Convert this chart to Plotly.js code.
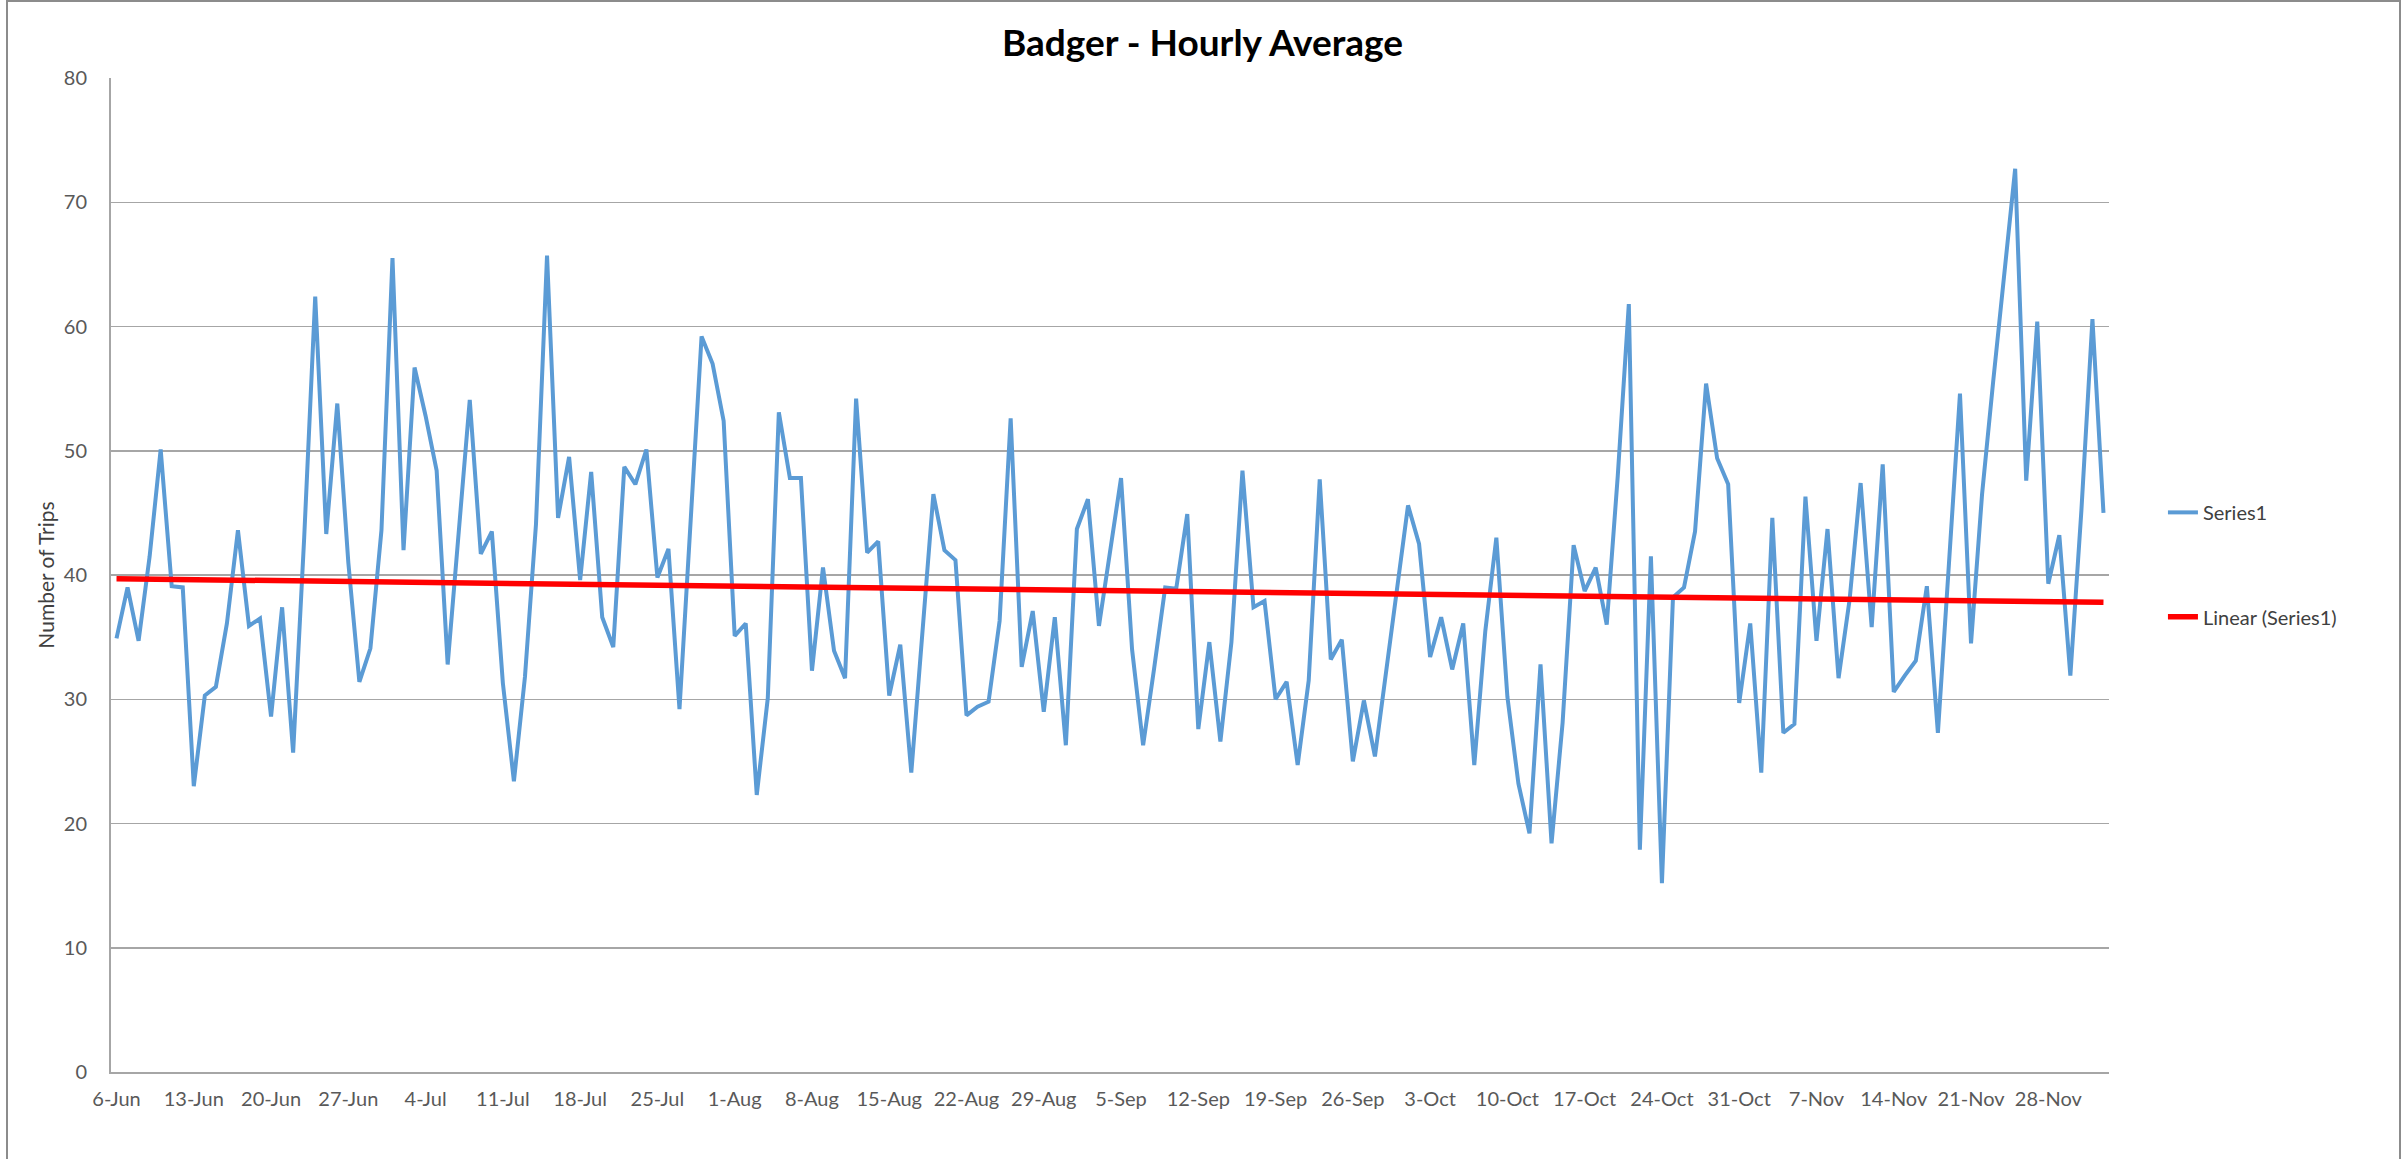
<!DOCTYPE html>
<html>
<head>
<meta charset="utf-8">
<script src="https://cdn.plot.ly/plotly-3.0.1.min.js"></script>
<style>
  html, body { margin: 0; padding: 0; background: #ffffff; }
  #chart { width: 2405px; height: 1159px; }
</style>
</head>
<body>
<div id="chart"></div>
<script>
// ---- data ----
const startDate = '2015-06-06';
const seriesName = 'Series1';
const trendName = 'Linear (Series1)';
const chartTitle = 'Badger - Hourly Average';
const yTitle = 'Number of Trips';
const tripsValues = [
  34.9, 39.0, 34.7, 41.5, 50.1, 39.1, 39.0, 23.0, 30.3, 31.0,
  36.1, 43.6, 35.9, 36.5, 28.6, 37.4, 25.7, 43.0, 62.4, 43.3,
  53.8, 41.0, 31.4, 34.1, 43.6, 65.5, 42.0, 56.7, 52.8, 48.4,
  32.8, 43.0, 54.1, 41.7, 43.5, 31.3, 23.4, 31.8, 44.1, 65.7,
  44.6, 49.5, 39.6, 48.3, 36.6, 34.2, 48.7, 47.3, 50.1, 39.8,
  42.1, 29.2, 44.0, 59.2, 57.0, 52.4, 35.1, 36.1, 22.3, 30.1,
  53.1, 47.8, 47.8, 32.3, 40.6, 33.9, 31.7, 54.2, 41.8, 42.7,
  30.3, 34.4, 24.1, 35.5, 46.5, 42.0, 41.2, 28.7, 29.4, 29.8,
  36.3, 52.6, 32.6, 37.1, 29.0, 36.6, 26.3, 43.7, 46.1, 35.9,
  42.0, 47.8, 34.0, 26.3, 32.5, 39.0, 38.9, 44.9, 27.6, 34.6,
  26.6, 34.6, 48.4, 37.4, 37.9, 30.0, 31.4, 24.7, 31.5, 47.7,
  33.2, 34.8, 25.0, 29.9, 25.4, 32.0, 38.5, 45.6, 42.5, 33.4,
  36.6, 32.4, 36.1, 24.7, 35.5, 43.0, 30.2, 23.2, 19.2, 32.8,
  18.4, 28.1, 42.4, 38.7, 40.6, 36.0, 48.0, 61.8, 17.9, 41.5,
  15.2, 38.2, 39.0, 43.5, 55.4, 49.4, 47.3, 29.7, 36.1, 24.1,
  44.6, 27.3, 28.0, 46.3, 34.7, 43.7, 31.7, 38.0, 47.4, 35.8,
  48.9, 30.6, 31.9, 33.1, 39.1, 27.3, 40.9, 54.6, 34.5, 46.5,
  55.5, 63.9, 72.7, 47.6, 60.4, 39.3, 43.2, 31.9, 45.2, 60.6,
  45.0
];
// Linear trendline end values (first day, last day)
const trendValues = [39.7, 37.8];

// ---- dates: one per daily value ----
const DAY = 86400000;
const t0 = Date.parse(startDate + 'T00:00:00Z');
function iso(ms) { return new Date(ms).toISOString().slice(0, 10); }
const dates = tripsValues.map((_, i) => iso(t0 + i * DAY));
const n = tripsValues.length;
const trendX = [dates[0], dates[n - 1]];

const series = {
  x: dates, y: tripsValues, type: 'scatter', mode: 'lines', name: seriesName,
  line: { color: '#5B9BD5', width: 4 }, legend: 'legend'
};
const trend = {
  x: trendX, y: trendValues, type: 'scatter', mode: 'lines', name: trendName,
  line: { color: '#FF0000', width: 5.5 }, legend: 'legend2'
};

const fontFam = 'Lato, "Open Sans", sans-serif';
const gridCol = '#a6a6a6';
const rangeStart = iso(t0 - DAY) + ' 12:00';
const rangeEnd = iso(t0 + (n - 1) * DAY) + ' 12:00';

const layout = {
  width: 2405, height: 1159,
  margin: { l: 111, r: 296, t: 78, b: 87 },
  paper_bgcolor: '#ffffff', plot_bgcolor: '#ffffff',
  font: { family: fontFam, size: 20, color: '#595959' },
  title: {
    text: chartTitle, xref: 'container', x: 0.5, xanchor: 'center',
    yref: 'container', y: 0.963, yanchor: 'middle',
    font: { family: fontFam, size: 37, color: '#000000', weight: 'bold' }
  },
  xaxis: {
    type: 'date', range: [rangeStart, rangeEnd],
    tick0: startDate, dtick: 7 * DAY, tickformat: '%-d-%b',
    showgrid: false, zeroline: false,
    showline: true, linecolor: gridCol, linewidth: 2,
    ticks: '', ticklabelstandoff: 8,
    tickfont: { family: fontFam, size: 20, color: '#595959' }
  },
  yaxis: {
    range: [0, 80], dtick: 10, tick0: 0,
    showgrid: true, gridcolor: gridCol, gridwidth: 1.5,
    zeroline: false, showline: true, linecolor: gridCol, linewidth: 2,
    ticks: '', ticklabelstandoff: 18,
    tickfont: { family: fontFam, size: 20, color: '#595959' },
    title: { text: yTitle, standoff: 3, font: { family: fontFam, size: 21, color: '#404040' } }
  },
  showlegend: true,
  legend: {
    x: 1.027, xanchor: 'left', y: 0.563, yanchor: 'middle',
    bgcolor: 'rgba(0,0,0,0)', font: { family: fontFam, size: 20, color: '#404040' }
  },
  legend2: {
    x: 1.027, xanchor: 'left', y: 0.458, yanchor: 'middle',
    bgcolor: 'rgba(0,0,0,0)', font: { family: fontFam, size: 20, color: '#404040' }
  },
  shapes: [{
    type: 'rect', xref: 'paper', yref: 'paper',
    x0: (7 - 111) / 1998, x1: (2400 - 111) / 1998,
    y0: -0.2, y1: (1072 - 1) / 994,
    line: { color: '#8c8c8c', width: 2 }, fillcolor: 'rgba(0,0,0,0)', layer: 'above'
  }]
};

Plotly.newPlot('chart', [series, trend], layout, { displayModeBar: false, staticPlot: true });
</script>
</body>
</html>
